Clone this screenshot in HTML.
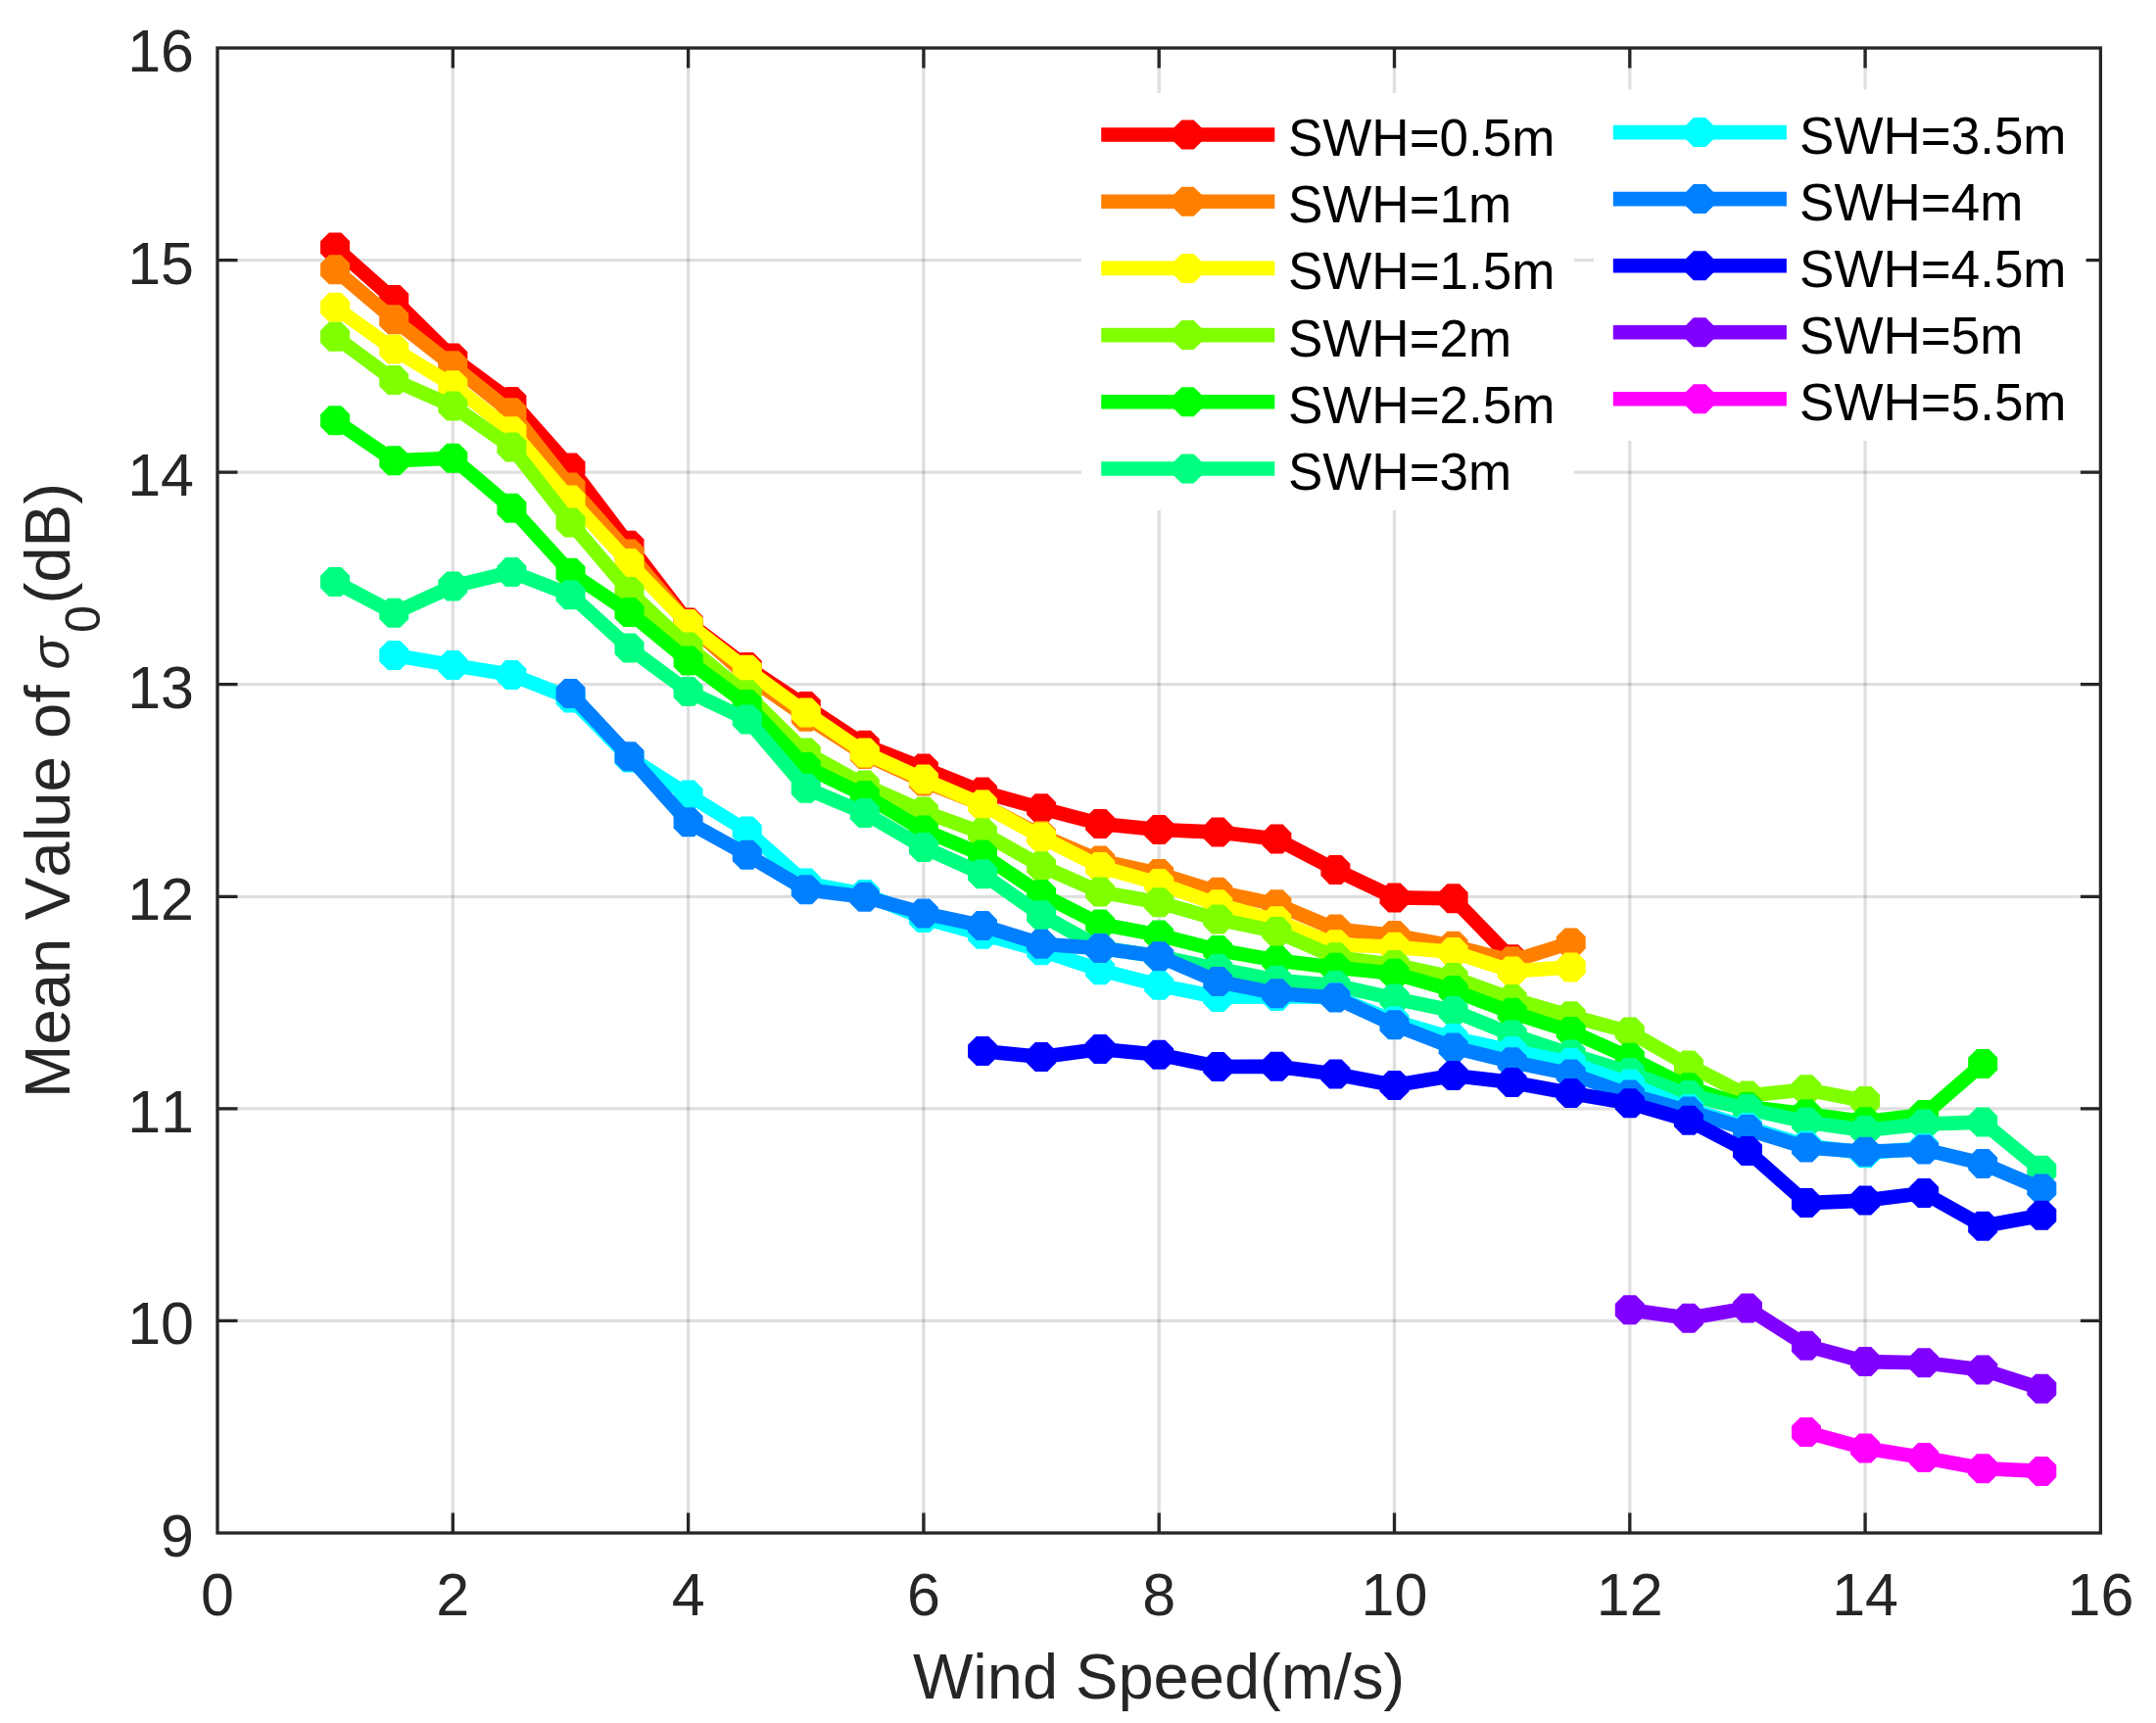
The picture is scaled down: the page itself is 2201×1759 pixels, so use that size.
<!DOCTYPE html>
<html><head><meta charset="utf-8"><title>Mean Value of sigma0 vs Wind Speed</title>
<style>html,body{margin:0;padding:0;background:#fff;}body{width:2201px;height:1759px;overflow:hidden;}svg{display:block;}.t{font-family:"Liberation Sans",Arial,Helvetica,sans-serif;font-kerning:none;}</style>
</head><body>
<svg width="2201" height="1759" viewBox="0 0 2201 1759">
<rect x="0" y="0" width="2201" height="1759" fill="#fff"/>
<g stroke="#262626" stroke-opacity="0.15" stroke-width="3.3" fill="none"><path d="M462.30 49.00V1565.00"/><path d="M702.60 49.00V1565.00"/><path d="M942.90 49.00V1565.00"/><path d="M1183.20 49.00V1565.00"/><path d="M1423.50 49.00V1565.00"/><path d="M1663.80 49.00V1565.00"/><path d="M1904.10 49.00V1565.00"/><path d="M222.00 1348.43H2144.40"/><path d="M222.00 1131.86H2144.40"/><path d="M222.00 915.29H2144.40"/><path d="M222.00 698.71H2144.40"/><path d="M222.00 482.14H2144.40"/><path d="M222.00 265.57H2144.40"/></g>
<path d="M462.30 1565.00v-20.5M462.30 49.00v20.5M702.60 1565.00v-20.5M702.60 49.00v20.5M942.90 1565.00v-20.5M942.90 49.00v20.5M1183.20 1565.00v-20.5M1183.20 49.00v20.5M1423.50 1565.00v-20.5M1423.50 49.00v20.5M1663.80 1565.00v-20.5M1663.80 49.00v20.5M1904.10 1565.00v-20.5M1904.10 49.00v20.5M222.00 1348.43h20.5M2144.40 1348.43h-20.5M222.00 1131.86h20.5M2144.40 1131.86h-20.5M222.00 915.29h20.5M2144.40 915.29h-20.5M222.00 698.71h20.5M2144.40 698.71h-20.5M222.00 482.14h20.5M2144.40 482.14h-20.5M222.00 265.57h20.5M2144.40 265.57h-20.5" stroke="#262626" stroke-width="3.3" fill="none"/>
<rect x="222.00" y="49.00" width="1922.40" height="1516.00" stroke="#262626" stroke-width="3.3" fill="none"/>
<path d="M342.1 252.5 L402.2 305.9 L462.3 365.5 L522.4 409.9 L582.5 477.6 L642.5 556.8 L702.6 635.5 L762.7 681.0 L822.8 721.0 L882.8 760.7 L942.9 784.4 L1003.0 808.5 L1063.1 825.3 L1123.1 841.0 L1183.2 847.0 L1243.3 849.6 L1303.4 856.6 L1363.4 887.9 L1423.5 916.4 L1483.6 917.3 L1543.7 979.3" stroke="#ff0000" stroke-width="14.6" fill="none" stroke-linejoin="round" stroke-linecap="butt"/>
<g fill="#ff0000"><polygon points="335.9,237.5 348.4,237.5 357.1,246.3 357.1,258.7 348.4,267.5 335.9,267.5 327.1,258.7 327.1,246.3"/><polygon points="396.0,290.9 408.4,290.9 417.2,299.7 417.2,312.1 408.4,320.9 396.0,320.9 387.2,312.1 387.2,299.7"/><polygon points="456.1,350.5 468.5,350.5 477.3,359.3 477.3,371.7 468.5,380.5 456.1,380.5 447.3,371.7 447.3,359.3"/><polygon points="516.2,394.9 528.6,394.9 537.4,403.7 537.4,416.1 528.6,424.9 516.2,424.9 507.4,416.1 507.4,403.7"/><polygon points="576.2,462.6 588.7,462.6 597.5,471.4 597.5,483.8 588.7,492.6 576.2,492.6 567.5,483.8 567.5,471.4"/><polygon points="636.3,541.8 648.7,541.8 657.5,550.6 657.5,563.0 648.7,571.8 636.3,571.8 627.5,563.0 627.5,550.6"/><polygon points="696.4,620.5 708.8,620.5 717.6,629.3 717.6,641.7 708.8,650.5 696.4,650.5 687.6,641.7 687.6,629.3"/><polygon points="756.5,666.0 768.9,666.0 777.7,674.8 777.7,687.2 768.9,696.0 756.5,696.0 747.7,687.2 747.7,674.8"/><polygon points="816.5,706.0 829.0,706.0 837.8,714.8 837.8,727.2 829.0,736.0 816.5,736.0 807.8,727.2 807.8,714.8"/><polygon points="876.6,745.7 889.0,745.7 897.8,754.5 897.8,766.9 889.0,775.7 876.6,775.7 867.8,766.9 867.8,754.5"/><polygon points="936.7,769.4 949.1,769.4 957.9,778.2 957.9,790.6 949.1,799.4 936.7,799.4 927.9,790.6 927.9,778.2"/><polygon points="996.8,793.5 1009.2,793.5 1018.0,802.3 1018.0,814.7 1009.2,823.5 996.8,823.5 988.0,814.7 988.0,802.3"/><polygon points="1056.8,810.3 1069.3,810.3 1078.1,819.1 1078.1,831.5 1069.3,840.3 1056.8,840.3 1048.1,831.5 1048.1,819.1"/><polygon points="1116.9,826.0 1129.3,826.0 1138.1,834.8 1138.1,847.2 1129.3,856.0 1116.9,856.0 1108.1,847.2 1108.1,834.8"/><polygon points="1177.0,832.0 1189.4,832.0 1198.2,840.8 1198.2,853.2 1189.4,862.0 1177.0,862.0 1168.2,853.2 1168.2,840.8"/><polygon points="1237.1,834.6 1249.5,834.6 1258.3,843.4 1258.3,855.8 1249.5,864.6 1237.1,864.6 1228.3,855.8 1228.3,843.4"/><polygon points="1297.1,841.6 1309.6,841.6 1318.4,850.4 1318.4,862.8 1309.6,871.6 1297.1,871.6 1288.4,862.8 1288.4,850.4"/><polygon points="1357.2,872.9 1369.6,872.9 1378.4,881.7 1378.4,894.1 1369.6,902.9 1357.2,902.9 1348.4,894.1 1348.4,881.7"/><polygon points="1417.3,901.4 1429.7,901.4 1438.5,910.2 1438.5,922.6 1429.7,931.4 1417.3,931.4 1408.5,922.6 1408.5,910.2"/><polygon points="1477.4,902.3 1489.8,902.3 1498.6,911.1 1498.6,923.5 1489.8,932.3 1477.4,932.3 1468.6,923.5 1468.6,911.1"/><polygon points="1537.4,964.3 1549.9,964.3 1558.7,973.1 1558.7,985.5 1549.9,994.3 1537.4,994.3 1528.7,985.5 1528.7,973.1"/></g>
<path d="M342.1 275.3 L402.2 326.3 L462.3 373.3 L522.4 421.2 L582.5 497.6 L642.5 565.5 L702.6 637.0 L762.7 690.0 L822.8 731.8 L882.8 770.0 L942.9 797.5 L1003.0 821.4 L1063.1 853.0 L1123.1 878.6 L1183.2 892.0 L1243.3 910.7 L1303.4 923.3 L1363.4 948.5 L1423.5 955.0 L1483.6 965.8 L1543.7 981.2 L1603.7 962.4" stroke="#ff8000" stroke-width="14.6" fill="none" stroke-linejoin="round" stroke-linecap="butt"/>
<g fill="#ff8000"><polygon points="335.9,260.3 348.4,260.3 357.1,269.1 357.1,281.5 348.4,290.3 335.9,290.3 327.1,281.5 327.1,269.1"/><polygon points="396.0,311.3 408.4,311.3 417.2,320.1 417.2,332.5 408.4,341.3 396.0,341.3 387.2,332.5 387.2,320.1"/><polygon points="456.1,358.3 468.5,358.3 477.3,367.1 477.3,379.5 468.5,388.3 456.1,388.3 447.3,379.5 447.3,367.1"/><polygon points="516.2,406.2 528.6,406.2 537.4,415.0 537.4,427.4 528.6,436.2 516.2,436.2 507.4,427.4 507.4,415.0"/><polygon points="576.2,482.6 588.7,482.6 597.5,491.4 597.5,503.8 588.7,512.6 576.2,512.6 567.5,503.8 567.5,491.4"/><polygon points="636.3,550.5 648.7,550.5 657.5,559.3 657.5,571.7 648.7,580.5 636.3,580.5 627.5,571.7 627.5,559.3"/><polygon points="696.4,622.0 708.8,622.0 717.6,630.8 717.6,643.2 708.8,652.0 696.4,652.0 687.6,643.2 687.6,630.8"/><polygon points="756.5,675.0 768.9,675.0 777.7,683.8 777.7,696.2 768.9,705.0 756.5,705.0 747.7,696.2 747.7,683.8"/><polygon points="816.5,716.8 829.0,716.8 837.8,725.6 837.8,738.0 829.0,746.8 816.5,746.8 807.8,738.0 807.8,725.6"/><polygon points="876.6,755.0 889.0,755.0 897.8,763.8 897.8,776.2 889.0,785.0 876.6,785.0 867.8,776.2 867.8,763.8"/><polygon points="936.7,782.5 949.1,782.5 957.9,791.3 957.9,803.7 949.1,812.5 936.7,812.5 927.9,803.7 927.9,791.3"/><polygon points="996.8,806.4 1009.2,806.4 1018.0,815.2 1018.0,827.6 1009.2,836.4 996.8,836.4 988.0,827.6 988.0,815.2"/><polygon points="1056.8,838.0 1069.3,838.0 1078.1,846.8 1078.1,859.2 1069.3,868.0 1056.8,868.0 1048.1,859.2 1048.1,846.8"/><polygon points="1116.9,863.6 1129.3,863.6 1138.1,872.4 1138.1,884.8 1129.3,893.6 1116.9,893.6 1108.1,884.8 1108.1,872.4"/><polygon points="1177.0,877.0 1189.4,877.0 1198.2,885.8 1198.2,898.2 1189.4,907.0 1177.0,907.0 1168.2,898.2 1168.2,885.8"/><polygon points="1237.1,895.7 1249.5,895.7 1258.3,904.5 1258.3,916.9 1249.5,925.7 1237.1,925.7 1228.3,916.9 1228.3,904.5"/><polygon points="1297.1,908.3 1309.6,908.3 1318.4,917.1 1318.4,929.5 1309.6,938.3 1297.1,938.3 1288.4,929.5 1288.4,917.1"/><polygon points="1357.2,933.5 1369.6,933.5 1378.4,942.3 1378.4,954.7 1369.6,963.5 1357.2,963.5 1348.4,954.7 1348.4,942.3"/><polygon points="1417.3,940.0 1429.7,940.0 1438.5,948.8 1438.5,961.2 1429.7,970.0 1417.3,970.0 1408.5,961.2 1408.5,948.8"/><polygon points="1477.4,950.8 1489.8,950.8 1498.6,959.6 1498.6,972.0 1489.8,980.8 1477.4,980.8 1468.6,972.0 1468.6,959.6"/><polygon points="1537.4,966.2 1549.9,966.2 1558.7,975.0 1558.7,987.4 1549.9,996.2 1537.4,996.2 1528.7,987.4 1528.7,975.0"/><polygon points="1597.5,947.4 1609.9,947.4 1618.7,956.2 1618.7,968.6 1609.9,977.4 1597.5,977.4 1588.7,968.6 1588.7,956.2"/></g>
<path d="M342.1 313.8 L402.2 356.6 L462.3 393.3 L522.4 440.3 L582.5 510.6 L642.5 575.0 L702.6 636.9 L762.7 683.7 L822.8 727.6 L882.8 768.5 L942.9 795.6 L1003.0 821.5 L1063.1 854.6 L1123.1 885.0 L1183.2 902.0 L1243.3 923.3 L1303.4 940.3 L1363.4 964.2 L1423.5 966.8 L1483.6 971.9 L1543.7 991.5 L1603.7 987.4" stroke="#ffff00" stroke-width="14.6" fill="none" stroke-linejoin="round" stroke-linecap="butt"/>
<g fill="#ffff00"><polygon points="335.9,298.8 348.4,298.8 357.1,307.6 357.1,320.0 348.4,328.8 335.9,328.8 327.1,320.0 327.1,307.6"/><polygon points="396.0,341.6 408.4,341.6 417.2,350.4 417.2,362.8 408.4,371.6 396.0,371.6 387.2,362.8 387.2,350.4"/><polygon points="456.1,378.3 468.5,378.3 477.3,387.1 477.3,399.5 468.5,408.3 456.1,408.3 447.3,399.5 447.3,387.1"/><polygon points="516.2,425.3 528.6,425.3 537.4,434.1 537.4,446.5 528.6,455.3 516.2,455.3 507.4,446.5 507.4,434.1"/><polygon points="576.2,495.6 588.7,495.6 597.5,504.4 597.5,516.8 588.7,525.6 576.2,525.6 567.5,516.8 567.5,504.4"/><polygon points="636.3,560.0 648.7,560.0 657.5,568.8 657.5,581.2 648.7,590.0 636.3,590.0 627.5,581.2 627.5,568.8"/><polygon points="696.4,621.9 708.8,621.9 717.6,630.7 717.6,643.1 708.8,651.9 696.4,651.9 687.6,643.1 687.6,630.7"/><polygon points="756.5,668.7 768.9,668.7 777.7,677.5 777.7,689.9 768.9,698.7 756.5,698.7 747.7,689.9 747.7,677.5"/><polygon points="816.5,712.6 829.0,712.6 837.8,721.4 837.8,733.8 829.0,742.6 816.5,742.6 807.8,733.8 807.8,721.4"/><polygon points="876.6,753.5 889.0,753.5 897.8,762.3 897.8,774.7 889.0,783.5 876.6,783.5 867.8,774.7 867.8,762.3"/><polygon points="936.7,780.6 949.1,780.6 957.9,789.4 957.9,801.8 949.1,810.6 936.7,810.6 927.9,801.8 927.9,789.4"/><polygon points="996.8,806.5 1009.2,806.5 1018.0,815.3 1018.0,827.7 1009.2,836.5 996.8,836.5 988.0,827.7 988.0,815.3"/><polygon points="1056.8,839.6 1069.3,839.6 1078.1,848.4 1078.1,860.8 1069.3,869.6 1056.8,869.6 1048.1,860.8 1048.1,848.4"/><polygon points="1116.9,870.0 1129.3,870.0 1138.1,878.8 1138.1,891.2 1129.3,900.0 1116.9,900.0 1108.1,891.2 1108.1,878.8"/><polygon points="1177.0,887.0 1189.4,887.0 1198.2,895.8 1198.2,908.2 1189.4,917.0 1177.0,917.0 1168.2,908.2 1168.2,895.8"/><polygon points="1237.1,908.3 1249.5,908.3 1258.3,917.1 1258.3,929.5 1249.5,938.3 1237.1,938.3 1228.3,929.5 1228.3,917.1"/><polygon points="1297.1,925.3 1309.6,925.3 1318.4,934.1 1318.4,946.5 1309.6,955.3 1297.1,955.3 1288.4,946.5 1288.4,934.1"/><polygon points="1357.2,949.2 1369.6,949.2 1378.4,958.0 1378.4,970.4 1369.6,979.2 1357.2,979.2 1348.4,970.4 1348.4,958.0"/><polygon points="1417.3,951.8 1429.7,951.8 1438.5,960.6 1438.5,973.0 1429.7,981.8 1417.3,981.8 1408.5,973.0 1408.5,960.6"/><polygon points="1477.4,956.9 1489.8,956.9 1498.6,965.7 1498.6,978.1 1489.8,986.9 1477.4,986.9 1468.6,978.1 1468.6,965.7"/><polygon points="1537.4,976.5 1549.9,976.5 1558.7,985.3 1558.7,997.7 1549.9,1006.5 1537.4,1006.5 1528.7,997.7 1528.7,985.3"/><polygon points="1597.5,972.4 1609.9,972.4 1618.7,981.2 1618.7,993.6 1609.9,1002.4 1597.5,1002.4 1588.7,993.6 1588.7,981.2"/></g>
<path d="M342.1 343.7 L402.2 388.1 L462.3 414.6 L522.4 456.4 L582.5 533.6 L642.5 604.1 L702.6 660.4 L762.7 709.3 L822.8 768.5 L882.8 801.6 L942.9 828.5 L1003.0 850.3 L1063.1 884.2 L1123.1 910.6 L1183.2 921.2 L1243.3 938.4 L1303.4 951.1 L1363.4 977.3 L1423.5 985.0 L1483.6 998.0 L1543.7 1020.0 L1603.7 1037.2 L1663.8 1053.5 L1723.9 1087.6 L1784.0 1118.4 L1844.0 1112.3 L1904.1 1124.0" stroke="#80ff00" stroke-width="14.6" fill="none" stroke-linejoin="round" stroke-linecap="butt"/>
<g fill="#80ff00"><polygon points="335.9,328.7 348.4,328.7 357.1,337.5 357.1,349.9 348.4,358.7 335.9,358.7 327.1,349.9 327.1,337.5"/><polygon points="396.0,373.1 408.4,373.1 417.2,381.9 417.2,394.3 408.4,403.1 396.0,403.1 387.2,394.3 387.2,381.9"/><polygon points="456.1,399.6 468.5,399.6 477.3,408.4 477.3,420.8 468.5,429.6 456.1,429.6 447.3,420.8 447.3,408.4"/><polygon points="516.2,441.4 528.6,441.4 537.4,450.2 537.4,462.6 528.6,471.4 516.2,471.4 507.4,462.6 507.4,450.2"/><polygon points="576.2,518.6 588.7,518.6 597.5,527.4 597.5,539.8 588.7,548.6 576.2,548.6 567.5,539.8 567.5,527.4"/><polygon points="636.3,589.1 648.7,589.1 657.5,597.9 657.5,610.3 648.7,619.1 636.3,619.1 627.5,610.3 627.5,597.9"/><polygon points="696.4,645.4 708.8,645.4 717.6,654.2 717.6,666.6 708.8,675.4 696.4,675.4 687.6,666.6 687.6,654.2"/><polygon points="756.5,694.3 768.9,694.3 777.7,703.1 777.7,715.5 768.9,724.3 756.5,724.3 747.7,715.5 747.7,703.1"/><polygon points="816.5,753.5 829.0,753.5 837.8,762.3 837.8,774.7 829.0,783.5 816.5,783.5 807.8,774.7 807.8,762.3"/><polygon points="876.6,786.6 889.0,786.6 897.8,795.4 897.8,807.8 889.0,816.6 876.6,816.6 867.8,807.8 867.8,795.4"/><polygon points="936.7,813.5 949.1,813.5 957.9,822.3 957.9,834.7 949.1,843.5 936.7,843.5 927.9,834.7 927.9,822.3"/><polygon points="996.8,835.3 1009.2,835.3 1018.0,844.1 1018.0,856.5 1009.2,865.3 996.8,865.3 988.0,856.5 988.0,844.1"/><polygon points="1056.8,869.2 1069.3,869.2 1078.1,878.0 1078.1,890.4 1069.3,899.2 1056.8,899.2 1048.1,890.4 1048.1,878.0"/><polygon points="1116.9,895.6 1129.3,895.6 1138.1,904.4 1138.1,916.8 1129.3,925.6 1116.9,925.6 1108.1,916.8 1108.1,904.4"/><polygon points="1177.0,906.2 1189.4,906.2 1198.2,915.0 1198.2,927.4 1189.4,936.2 1177.0,936.2 1168.2,927.4 1168.2,915.0"/><polygon points="1237.1,923.4 1249.5,923.4 1258.3,932.2 1258.3,944.6 1249.5,953.4 1237.1,953.4 1228.3,944.6 1228.3,932.2"/><polygon points="1297.1,936.1 1309.6,936.1 1318.4,944.9 1318.4,957.3 1309.6,966.1 1297.1,966.1 1288.4,957.3 1288.4,944.9"/><polygon points="1357.2,962.3 1369.6,962.3 1378.4,971.1 1378.4,983.5 1369.6,992.3 1357.2,992.3 1348.4,983.5 1348.4,971.1"/><polygon points="1417.3,970.0 1429.7,970.0 1438.5,978.8 1438.5,991.2 1429.7,1000.0 1417.3,1000.0 1408.5,991.2 1408.5,978.8"/><polygon points="1477.4,983.0 1489.8,983.0 1498.6,991.8 1498.6,1004.2 1489.8,1013.0 1477.4,1013.0 1468.6,1004.2 1468.6,991.8"/><polygon points="1537.4,1005.0 1549.9,1005.0 1558.7,1013.8 1558.7,1026.2 1549.9,1035.0 1537.4,1035.0 1528.7,1026.2 1528.7,1013.8"/><polygon points="1597.5,1022.2 1609.9,1022.2 1618.7,1031.0 1618.7,1043.4 1609.9,1052.2 1597.5,1052.2 1588.7,1043.4 1588.7,1031.0"/><polygon points="1657.6,1038.5 1670.0,1038.5 1678.8,1047.3 1678.8,1059.7 1670.0,1068.5 1657.6,1068.5 1648.8,1059.7 1648.8,1047.3"/><polygon points="1717.7,1072.6 1730.1,1072.6 1738.9,1081.4 1738.9,1093.8 1730.1,1102.6 1717.7,1102.6 1708.9,1093.8 1708.9,1081.4"/><polygon points="1777.7,1103.4 1790.2,1103.4 1799.0,1112.2 1799.0,1124.6 1790.2,1133.4 1777.7,1133.4 1769.0,1124.6 1769.0,1112.2"/><polygon points="1837.8,1097.3 1850.2,1097.3 1859.0,1106.1 1859.0,1118.5 1850.2,1127.3 1837.8,1127.3 1829.0,1118.5 1829.0,1106.1"/><polygon points="1897.9,1109.0 1910.3,1109.0 1919.1,1117.8 1919.1,1130.2 1910.3,1139.0 1897.9,1139.0 1889.1,1130.2 1889.1,1117.8"/></g>
<path d="M342.1 429.2 L402.2 470.3 L462.3 467.7 L522.4 518.7 L582.5 584.7 L642.5 625.0 L702.6 674.6 L762.7 718.9 L822.8 783.0 L882.8 812.0 L942.9 847.5 L1003.0 872.5 L1063.1 912.9 L1123.1 943.4 L1183.2 954.6 L1243.3 970.0 L1303.4 980.4 L1363.4 987.7 L1423.5 993.7 L1483.6 1011.1 L1543.7 1033.8 L1603.7 1052.9 L1663.8 1079.8 L1723.9 1110.2 L1784.0 1130.0 L1844.0 1137.2 L1904.1 1145.3 L1964.2 1137.9 L2024.2 1086.0" stroke="#00ff00" stroke-width="14.6" fill="none" stroke-linejoin="round" stroke-linecap="butt"/>
<g fill="#00ff00"><polygon points="335.9,414.2 348.4,414.2 357.1,423.0 357.1,435.4 348.4,444.2 335.9,444.2 327.1,435.4 327.1,423.0"/><polygon points="396.0,455.3 408.4,455.3 417.2,464.1 417.2,476.5 408.4,485.3 396.0,485.3 387.2,476.5 387.2,464.1"/><polygon points="456.1,452.7 468.5,452.7 477.3,461.5 477.3,473.9 468.5,482.7 456.1,482.7 447.3,473.9 447.3,461.5"/><polygon points="516.2,503.7 528.6,503.7 537.4,512.5 537.4,524.9 528.6,533.7 516.2,533.7 507.4,524.9 507.4,512.5"/><polygon points="576.2,569.7 588.7,569.7 597.5,578.5 597.5,590.9 588.7,599.7 576.2,599.7 567.5,590.9 567.5,578.5"/><polygon points="636.3,610.0 648.7,610.0 657.5,618.8 657.5,631.2 648.7,640.0 636.3,640.0 627.5,631.2 627.5,618.8"/><polygon points="696.4,659.6 708.8,659.6 717.6,668.4 717.6,680.8 708.8,689.6 696.4,689.6 687.6,680.8 687.6,668.4"/><polygon points="756.5,703.9 768.9,703.9 777.7,712.7 777.7,725.1 768.9,733.9 756.5,733.9 747.7,725.1 747.7,712.7"/><polygon points="816.5,768.0 829.0,768.0 837.8,776.8 837.8,789.2 829.0,798.0 816.5,798.0 807.8,789.2 807.8,776.8"/><polygon points="876.6,797.0 889.0,797.0 897.8,805.8 897.8,818.2 889.0,827.0 876.6,827.0 867.8,818.2 867.8,805.8"/><polygon points="936.7,832.5 949.1,832.5 957.9,841.3 957.9,853.7 949.1,862.5 936.7,862.5 927.9,853.7 927.9,841.3"/><polygon points="996.8,857.5 1009.2,857.5 1018.0,866.3 1018.0,878.7 1009.2,887.5 996.8,887.5 988.0,878.7 988.0,866.3"/><polygon points="1056.8,897.9 1069.3,897.9 1078.1,906.7 1078.1,919.1 1069.3,927.9 1056.8,927.9 1048.1,919.1 1048.1,906.7"/><polygon points="1116.9,928.4 1129.3,928.4 1138.1,937.2 1138.1,949.6 1129.3,958.4 1116.9,958.4 1108.1,949.6 1108.1,937.2"/><polygon points="1177.0,939.6 1189.4,939.6 1198.2,948.4 1198.2,960.8 1189.4,969.6 1177.0,969.6 1168.2,960.8 1168.2,948.4"/><polygon points="1237.1,955.0 1249.5,955.0 1258.3,963.8 1258.3,976.2 1249.5,985.0 1237.1,985.0 1228.3,976.2 1228.3,963.8"/><polygon points="1297.1,965.4 1309.6,965.4 1318.4,974.2 1318.4,986.6 1309.6,995.4 1297.1,995.4 1288.4,986.6 1288.4,974.2"/><polygon points="1357.2,972.7 1369.6,972.7 1378.4,981.5 1378.4,993.9 1369.6,1002.7 1357.2,1002.7 1348.4,993.9 1348.4,981.5"/><polygon points="1417.3,978.7 1429.7,978.7 1438.5,987.5 1438.5,999.9 1429.7,1008.7 1417.3,1008.7 1408.5,999.9 1408.5,987.5"/><polygon points="1477.4,996.1 1489.8,996.1 1498.6,1004.9 1498.6,1017.3 1489.8,1026.1 1477.4,1026.1 1468.6,1017.3 1468.6,1004.9"/><polygon points="1537.4,1018.8 1549.9,1018.8 1558.7,1027.6 1558.7,1040.0 1549.9,1048.8 1537.4,1048.8 1528.7,1040.0 1528.7,1027.6"/><polygon points="1597.5,1037.9 1609.9,1037.9 1618.7,1046.7 1618.7,1059.1 1609.9,1067.9 1597.5,1067.9 1588.7,1059.1 1588.7,1046.7"/><polygon points="1657.6,1064.8 1670.0,1064.8 1678.8,1073.6 1678.8,1086.0 1670.0,1094.8 1657.6,1094.8 1648.8,1086.0 1648.8,1073.6"/><polygon points="1717.7,1095.2 1730.1,1095.2 1738.9,1104.0 1738.9,1116.4 1730.1,1125.2 1717.7,1125.2 1708.9,1116.4 1708.9,1104.0"/><polygon points="1777.7,1115.0 1790.2,1115.0 1799.0,1123.8 1799.0,1136.2 1790.2,1145.0 1777.7,1145.0 1769.0,1136.2 1769.0,1123.8"/><polygon points="1837.8,1122.2 1850.2,1122.2 1859.0,1131.0 1859.0,1143.4 1850.2,1152.2 1837.8,1152.2 1829.0,1143.4 1829.0,1131.0"/><polygon points="1897.9,1130.3 1910.3,1130.3 1919.1,1139.1 1919.1,1151.5 1910.3,1160.3 1897.9,1160.3 1889.1,1151.5 1889.1,1139.1"/><polygon points="1958.0,1122.9 1970.4,1122.9 1979.2,1131.7 1979.2,1144.1 1970.4,1152.9 1958.0,1152.9 1949.2,1144.1 1949.2,1131.7"/><polygon points="2018.0,1071.0 2030.5,1071.0 2039.2,1079.8 2039.2,1092.2 2030.5,1101.0 2018.0,1101.0 2009.2,1092.2 2009.2,1079.8"/></g>
<path d="M342.1 594.0 L402.2 625.8 L462.3 598.5 L522.4 584.0 L582.5 607.2 L642.5 661.6 L702.6 706.0 L762.7 734.4 L822.8 804.8 L882.8 830.0 L942.9 865.0 L1003.0 892.2 L1063.1 934.2 L1123.1 967.5 L1183.2 976.5 L1243.3 989.1 L1303.4 1000.8 L1363.4 1006.0 L1423.5 1019.4 L1483.6 1032.0 L1543.7 1056.4 L1603.7 1076.4 L1663.8 1095.0 L1723.9 1118.0 L1784.0 1132.0 L1844.0 1145.5 L1904.1 1154.0 L1964.2 1147.5 L2024.2 1145.6 L2084.3 1194.8" stroke="#00ff80" stroke-width="14.6" fill="none" stroke-linejoin="round" stroke-linecap="butt"/>
<g fill="#00ff80"><polygon points="335.9,579.0 348.4,579.0 357.1,587.8 357.1,600.2 348.4,609.0 335.9,609.0 327.1,600.2 327.1,587.8"/><polygon points="396.0,610.8 408.4,610.8 417.2,619.6 417.2,632.0 408.4,640.8 396.0,640.8 387.2,632.0 387.2,619.6"/><polygon points="456.1,583.5 468.5,583.5 477.3,592.3 477.3,604.7 468.5,613.5 456.1,613.5 447.3,604.7 447.3,592.3"/><polygon points="516.2,569.0 528.6,569.0 537.4,577.8 537.4,590.2 528.6,599.0 516.2,599.0 507.4,590.2 507.4,577.8"/><polygon points="576.2,592.2 588.7,592.2 597.5,601.0 597.5,613.4 588.7,622.2 576.2,622.2 567.5,613.4 567.5,601.0"/><polygon points="636.3,646.6 648.7,646.6 657.5,655.4 657.5,667.8 648.7,676.6 636.3,676.6 627.5,667.8 627.5,655.4"/><polygon points="696.4,691.0 708.8,691.0 717.6,699.8 717.6,712.2 708.8,721.0 696.4,721.0 687.6,712.2 687.6,699.8"/><polygon points="756.5,719.4 768.9,719.4 777.7,728.2 777.7,740.6 768.9,749.4 756.5,749.4 747.7,740.6 747.7,728.2"/><polygon points="816.5,789.8 829.0,789.8 837.8,798.6 837.8,811.0 829.0,819.8 816.5,819.8 807.8,811.0 807.8,798.6"/><polygon points="876.6,815.0 889.0,815.0 897.8,823.8 897.8,836.2 889.0,845.0 876.6,845.0 867.8,836.2 867.8,823.8"/><polygon points="936.7,850.0 949.1,850.0 957.9,858.8 957.9,871.2 949.1,880.0 936.7,880.0 927.9,871.2 927.9,858.8"/><polygon points="996.8,877.2 1009.2,877.2 1018.0,886.0 1018.0,898.4 1009.2,907.2 996.8,907.2 988.0,898.4 988.0,886.0"/><polygon points="1056.8,919.2 1069.3,919.2 1078.1,928.0 1078.1,940.4 1069.3,949.2 1056.8,949.2 1048.1,940.4 1048.1,928.0"/><polygon points="1116.9,952.5 1129.3,952.5 1138.1,961.3 1138.1,973.7 1129.3,982.5 1116.9,982.5 1108.1,973.7 1108.1,961.3"/><polygon points="1177.0,961.5 1189.4,961.5 1198.2,970.3 1198.2,982.7 1189.4,991.5 1177.0,991.5 1168.2,982.7 1168.2,970.3"/><polygon points="1237.1,974.1 1249.5,974.1 1258.3,982.9 1258.3,995.3 1249.5,1004.1 1237.1,1004.1 1228.3,995.3 1228.3,982.9"/><polygon points="1297.1,985.8 1309.6,985.8 1318.4,994.6 1318.4,1007.0 1309.6,1015.8 1297.1,1015.8 1288.4,1007.0 1288.4,994.6"/><polygon points="1357.2,991.0 1369.6,991.0 1378.4,999.8 1378.4,1012.2 1369.6,1021.0 1357.2,1021.0 1348.4,1012.2 1348.4,999.8"/><polygon points="1417.3,1004.4 1429.7,1004.4 1438.5,1013.2 1438.5,1025.6 1429.7,1034.4 1417.3,1034.4 1408.5,1025.6 1408.5,1013.2"/><polygon points="1477.4,1017.0 1489.8,1017.0 1498.6,1025.8 1498.6,1038.2 1489.8,1047.0 1477.4,1047.0 1468.6,1038.2 1468.6,1025.8"/><polygon points="1537.4,1041.4 1549.9,1041.4 1558.7,1050.2 1558.7,1062.6 1549.9,1071.4 1537.4,1071.4 1528.7,1062.6 1528.7,1050.2"/><polygon points="1597.5,1061.4 1609.9,1061.4 1618.7,1070.2 1618.7,1082.6 1609.9,1091.4 1597.5,1091.4 1588.7,1082.6 1588.7,1070.2"/><polygon points="1657.6,1080.0 1670.0,1080.0 1678.8,1088.8 1678.8,1101.2 1670.0,1110.0 1657.6,1110.0 1648.8,1101.2 1648.8,1088.8"/><polygon points="1717.7,1103.0 1730.1,1103.0 1738.9,1111.8 1738.9,1124.2 1730.1,1133.0 1717.7,1133.0 1708.9,1124.2 1708.9,1111.8"/><polygon points="1777.7,1117.0 1790.2,1117.0 1799.0,1125.8 1799.0,1138.2 1790.2,1147.0 1777.7,1147.0 1769.0,1138.2 1769.0,1125.8"/><polygon points="1837.8,1130.5 1850.2,1130.5 1859.0,1139.3 1859.0,1151.7 1850.2,1160.5 1837.8,1160.5 1829.0,1151.7 1829.0,1139.3"/><polygon points="1897.9,1139.0 1910.3,1139.0 1919.1,1147.8 1919.1,1160.2 1910.3,1169.0 1897.9,1169.0 1889.1,1160.2 1889.1,1147.8"/><polygon points="1958.0,1132.5 1970.4,1132.5 1979.2,1141.3 1979.2,1153.7 1970.4,1162.5 1958.0,1162.5 1949.2,1153.7 1949.2,1141.3"/><polygon points="2018.0,1130.6 2030.5,1130.6 2039.2,1139.4 2039.2,1151.8 2030.5,1160.6 2018.0,1160.6 2009.2,1151.8 2009.2,1139.4"/><polygon points="2078.1,1179.8 2090.5,1179.8 2099.3,1188.6 2099.3,1201.0 2090.5,1209.8 2078.1,1209.8 2069.3,1201.0 2069.3,1188.6"/></g>
<path d="M402.2 669.0 L462.3 679.1 L522.4 689.0 L582.5 712.6 L642.5 773.5 L702.6 811.4 L762.7 848.4 L822.8 901.6 L882.8 913.0 L942.9 937.1 L1003.0 953.7 L1063.1 970.2 L1123.1 990.2 L1183.2 1005.8 L1243.3 1018.0 L1303.4 1017.1 L1363.4 1018.0 L1423.5 1042.5 L1483.6 1059.9 L1543.7 1072.9 L1603.7 1085.0 L1663.8 1106.5 L1723.9 1132.0 L1784.0 1151.0 L1844.0 1169.5 L1904.1 1177.3 L1964.2 1172.0" stroke="#00ffff" stroke-width="14.6" fill="none" stroke-linejoin="round" stroke-linecap="butt"/>
<g fill="#00ffff"><polygon points="396.0,654.0 408.4,654.0 417.2,662.8 417.2,675.2 408.4,684.0 396.0,684.0 387.2,675.2 387.2,662.8"/><polygon points="456.1,664.1 468.5,664.1 477.3,672.9 477.3,685.3 468.5,694.1 456.1,694.1 447.3,685.3 447.3,672.9"/><polygon points="516.2,674.0 528.6,674.0 537.4,682.8 537.4,695.2 528.6,704.0 516.2,704.0 507.4,695.2 507.4,682.8"/><polygon points="576.2,697.6 588.7,697.6 597.5,706.4 597.5,718.8 588.7,727.6 576.2,727.6 567.5,718.8 567.5,706.4"/><polygon points="636.3,758.5 648.7,758.5 657.5,767.3 657.5,779.7 648.7,788.5 636.3,788.5 627.5,779.7 627.5,767.3"/><polygon points="696.4,796.4 708.8,796.4 717.6,805.2 717.6,817.6 708.8,826.4 696.4,826.4 687.6,817.6 687.6,805.2"/><polygon points="756.5,833.4 768.9,833.4 777.7,842.2 777.7,854.6 768.9,863.4 756.5,863.4 747.7,854.6 747.7,842.2"/><polygon points="816.5,886.6 829.0,886.6 837.8,895.4 837.8,907.8 829.0,916.6 816.5,916.6 807.8,907.8 807.8,895.4"/><polygon points="876.6,898.0 889.0,898.0 897.8,906.8 897.8,919.2 889.0,928.0 876.6,928.0 867.8,919.2 867.8,906.8"/><polygon points="936.7,922.1 949.1,922.1 957.9,930.9 957.9,943.3 949.1,952.1 936.7,952.1 927.9,943.3 927.9,930.9"/><polygon points="996.8,938.7 1009.2,938.7 1018.0,947.5 1018.0,959.9 1009.2,968.7 996.8,968.7 988.0,959.9 988.0,947.5"/><polygon points="1056.8,955.2 1069.3,955.2 1078.1,964.0 1078.1,976.4 1069.3,985.2 1056.8,985.2 1048.1,976.4 1048.1,964.0"/><polygon points="1116.9,975.2 1129.3,975.2 1138.1,984.0 1138.1,996.4 1129.3,1005.2 1116.9,1005.2 1108.1,996.4 1108.1,984.0"/><polygon points="1177.0,990.8 1189.4,990.8 1198.2,999.6 1198.2,1012.0 1189.4,1020.8 1177.0,1020.8 1168.2,1012.0 1168.2,999.6"/><polygon points="1237.1,1003.0 1249.5,1003.0 1258.3,1011.8 1258.3,1024.2 1249.5,1033.0 1237.1,1033.0 1228.3,1024.2 1228.3,1011.8"/><polygon points="1297.1,1002.1 1309.6,1002.1 1318.4,1010.9 1318.4,1023.3 1309.6,1032.1 1297.1,1032.1 1288.4,1023.3 1288.4,1010.9"/><polygon points="1357.2,1003.0 1369.6,1003.0 1378.4,1011.8 1378.4,1024.2 1369.6,1033.0 1357.2,1033.0 1348.4,1024.2 1348.4,1011.8"/><polygon points="1417.3,1027.5 1429.7,1027.5 1438.5,1036.3 1438.5,1048.7 1429.7,1057.5 1417.3,1057.5 1408.5,1048.7 1408.5,1036.3"/><polygon points="1477.4,1044.9 1489.8,1044.9 1498.6,1053.7 1498.6,1066.1 1489.8,1074.9 1477.4,1074.9 1468.6,1066.1 1468.6,1053.7"/><polygon points="1537.4,1057.9 1549.9,1057.9 1558.7,1066.7 1558.7,1079.1 1549.9,1087.9 1537.4,1087.9 1528.7,1079.1 1528.7,1066.7"/><polygon points="1597.5,1070.0 1609.9,1070.0 1618.7,1078.8 1618.7,1091.2 1609.9,1100.0 1597.5,1100.0 1588.7,1091.2 1588.7,1078.8"/><polygon points="1657.6,1091.5 1670.0,1091.5 1678.8,1100.3 1678.8,1112.7 1670.0,1121.5 1657.6,1121.5 1648.8,1112.7 1648.8,1100.3"/><polygon points="1717.7,1117.0 1730.1,1117.0 1738.9,1125.8 1738.9,1138.2 1730.1,1147.0 1717.7,1147.0 1708.9,1138.2 1708.9,1125.8"/><polygon points="1777.7,1136.0 1790.2,1136.0 1799.0,1144.8 1799.0,1157.2 1790.2,1166.0 1777.7,1166.0 1769.0,1157.2 1769.0,1144.8"/><polygon points="1837.8,1154.5 1850.2,1154.5 1859.0,1163.3 1859.0,1175.7 1850.2,1184.5 1837.8,1184.5 1829.0,1175.7 1829.0,1163.3"/><polygon points="1897.9,1162.3 1910.3,1162.3 1919.1,1171.1 1919.1,1183.5 1910.3,1192.3 1897.9,1192.3 1889.1,1183.5 1889.1,1171.1"/><polygon points="1958.0,1157.0 1970.4,1157.0 1979.2,1165.8 1979.2,1178.2 1970.4,1187.0 1958.0,1187.0 1949.2,1178.2 1949.2,1165.8"/></g>
<path d="M582.5 708.0 L642.5 772.2 L702.6 839.3 L762.7 872.7 L822.8 908.3 L882.8 915.8 L942.9 932.4 L1003.0 945.1 L1063.1 963.8 L1123.1 968.1 L1183.2 976.2 L1243.3 1002.0 L1303.4 1014.2 L1363.4 1018.5 L1423.5 1046.3 L1483.6 1069.4 L1543.7 1084.2 L1603.7 1096.4 L1663.8 1117.6 L1723.9 1134.6 L1784.0 1152.9 L1844.0 1171.5 L1904.1 1175.8 L1964.2 1173.5 L2024.2 1187.9 L2084.3 1213.5" stroke="#0080ff" stroke-width="14.6" fill="none" stroke-linejoin="round" stroke-linecap="butt"/>
<g fill="#0080ff"><polygon points="576.2,693.0 588.7,693.0 597.5,701.8 597.5,714.2 588.7,723.0 576.2,723.0 567.5,714.2 567.5,701.8"/><polygon points="636.3,757.2 648.7,757.2 657.5,766.0 657.5,778.4 648.7,787.2 636.3,787.2 627.5,778.4 627.5,766.0"/><polygon points="696.4,824.3 708.8,824.3 717.6,833.1 717.6,845.5 708.8,854.3 696.4,854.3 687.6,845.5 687.6,833.1"/><polygon points="756.5,857.7 768.9,857.7 777.7,866.5 777.7,878.9 768.9,887.7 756.5,887.7 747.7,878.9 747.7,866.5"/><polygon points="816.5,893.3 829.0,893.3 837.8,902.1 837.8,914.5 829.0,923.3 816.5,923.3 807.8,914.5 807.8,902.1"/><polygon points="876.6,900.8 889.0,900.8 897.8,909.6 897.8,922.0 889.0,930.8 876.6,930.8 867.8,922.0 867.8,909.6"/><polygon points="936.7,917.4 949.1,917.4 957.9,926.2 957.9,938.6 949.1,947.4 936.7,947.4 927.9,938.6 927.9,926.2"/><polygon points="996.8,930.1 1009.2,930.1 1018.0,938.9 1018.0,951.3 1009.2,960.1 996.8,960.1 988.0,951.3 988.0,938.9"/><polygon points="1056.8,948.8 1069.3,948.8 1078.1,957.6 1078.1,970.0 1069.3,978.8 1056.8,978.8 1048.1,970.0 1048.1,957.6"/><polygon points="1116.9,953.1 1129.3,953.1 1138.1,961.9 1138.1,974.3 1129.3,983.1 1116.9,983.1 1108.1,974.3 1108.1,961.9"/><polygon points="1177.0,961.2 1189.4,961.2 1198.2,970.0 1198.2,982.4 1189.4,991.2 1177.0,991.2 1168.2,982.4 1168.2,970.0"/><polygon points="1237.1,987.0 1249.5,987.0 1258.3,995.8 1258.3,1008.2 1249.5,1017.0 1237.1,1017.0 1228.3,1008.2 1228.3,995.8"/><polygon points="1297.1,999.2 1309.6,999.2 1318.4,1008.0 1318.4,1020.4 1309.6,1029.2 1297.1,1029.2 1288.4,1020.4 1288.4,1008.0"/><polygon points="1357.2,1003.5 1369.6,1003.5 1378.4,1012.3 1378.4,1024.7 1369.6,1033.5 1357.2,1033.5 1348.4,1024.7 1348.4,1012.3"/><polygon points="1417.3,1031.3 1429.7,1031.3 1438.5,1040.1 1438.5,1052.5 1429.7,1061.3 1417.3,1061.3 1408.5,1052.5 1408.5,1040.1"/><polygon points="1477.4,1054.4 1489.8,1054.4 1498.6,1063.2 1498.6,1075.6 1489.8,1084.4 1477.4,1084.4 1468.6,1075.6 1468.6,1063.2"/><polygon points="1537.4,1069.2 1549.9,1069.2 1558.7,1078.0 1558.7,1090.4 1549.9,1099.2 1537.4,1099.2 1528.7,1090.4 1528.7,1078.0"/><polygon points="1597.5,1081.4 1609.9,1081.4 1618.7,1090.2 1618.7,1102.6 1609.9,1111.4 1597.5,1111.4 1588.7,1102.6 1588.7,1090.2"/><polygon points="1657.6,1102.6 1670.0,1102.6 1678.8,1111.4 1678.8,1123.8 1670.0,1132.6 1657.6,1132.6 1648.8,1123.8 1648.8,1111.4"/><polygon points="1717.7,1119.6 1730.1,1119.6 1738.9,1128.4 1738.9,1140.8 1730.1,1149.6 1717.7,1149.6 1708.9,1140.8 1708.9,1128.4"/><polygon points="1777.7,1137.9 1790.2,1137.9 1799.0,1146.7 1799.0,1159.1 1790.2,1167.9 1777.7,1167.9 1769.0,1159.1 1769.0,1146.7"/><polygon points="1837.8,1156.5 1850.2,1156.5 1859.0,1165.3 1859.0,1177.7 1850.2,1186.5 1837.8,1186.5 1829.0,1177.7 1829.0,1165.3"/><polygon points="1897.9,1160.8 1910.3,1160.8 1919.1,1169.6 1919.1,1182.0 1910.3,1190.8 1897.9,1190.8 1889.1,1182.0 1889.1,1169.6"/><polygon points="1958.0,1158.5 1970.4,1158.5 1979.2,1167.3 1979.2,1179.7 1970.4,1188.5 1958.0,1188.5 1949.2,1179.7 1949.2,1167.3"/><polygon points="2018.0,1172.9 2030.5,1172.9 2039.2,1181.7 2039.2,1194.1 2030.5,1202.9 2018.0,1202.9 2009.2,1194.1 2009.2,1181.7"/><polygon points="2078.1,1198.5 2090.5,1198.5 2099.3,1207.3 2099.3,1219.7 2090.5,1228.5 2078.1,1228.5 2069.3,1219.7 2069.3,1207.3"/></g>
<path d="M1003.0 1073.0 L1063.1 1079.0 L1123.1 1070.9 L1183.2 1076.7 L1243.3 1089.0 L1303.4 1088.7 L1363.4 1096.5 L1423.5 1108.0 L1483.6 1098.0 L1543.7 1105.0 L1603.7 1116.0 L1663.8 1126.3 L1723.9 1143.7 L1784.0 1175.0 L1844.0 1228.1 L1904.1 1225.6 L1964.2 1218.0 L2024.2 1251.7 L2084.3 1240.7" stroke="#0000ff" stroke-width="14.6" fill="none" stroke-linejoin="round" stroke-linecap="butt"/>
<g fill="#0000ff"><polygon points="996.8,1058.0 1009.2,1058.0 1018.0,1066.8 1018.0,1079.2 1009.2,1088.0 996.8,1088.0 988.0,1079.2 988.0,1066.8"/><polygon points="1056.8,1064.0 1069.3,1064.0 1078.1,1072.8 1078.1,1085.2 1069.3,1094.0 1056.8,1094.0 1048.1,1085.2 1048.1,1072.8"/><polygon points="1116.9,1055.9 1129.3,1055.9 1138.1,1064.7 1138.1,1077.1 1129.3,1085.9 1116.9,1085.9 1108.1,1077.1 1108.1,1064.7"/><polygon points="1177.0,1061.7 1189.4,1061.7 1198.2,1070.5 1198.2,1082.9 1189.4,1091.7 1177.0,1091.7 1168.2,1082.9 1168.2,1070.5"/><polygon points="1237.1,1074.0 1249.5,1074.0 1258.3,1082.8 1258.3,1095.2 1249.5,1104.0 1237.1,1104.0 1228.3,1095.2 1228.3,1082.8"/><polygon points="1297.1,1073.7 1309.6,1073.7 1318.4,1082.5 1318.4,1094.9 1309.6,1103.7 1297.1,1103.7 1288.4,1094.9 1288.4,1082.5"/><polygon points="1357.2,1081.5 1369.6,1081.5 1378.4,1090.3 1378.4,1102.7 1369.6,1111.5 1357.2,1111.5 1348.4,1102.7 1348.4,1090.3"/><polygon points="1417.3,1093.0 1429.7,1093.0 1438.5,1101.8 1438.5,1114.2 1429.7,1123.0 1417.3,1123.0 1408.5,1114.2 1408.5,1101.8"/><polygon points="1477.4,1083.0 1489.8,1083.0 1498.6,1091.8 1498.6,1104.2 1489.8,1113.0 1477.4,1113.0 1468.6,1104.2 1468.6,1091.8"/><polygon points="1537.4,1090.0 1549.9,1090.0 1558.7,1098.8 1558.7,1111.2 1549.9,1120.0 1537.4,1120.0 1528.7,1111.2 1528.7,1098.8"/><polygon points="1597.5,1101.0 1609.9,1101.0 1618.7,1109.8 1618.7,1122.2 1609.9,1131.0 1597.5,1131.0 1588.7,1122.2 1588.7,1109.8"/><polygon points="1657.6,1111.3 1670.0,1111.3 1678.8,1120.1 1678.8,1132.5 1670.0,1141.3 1657.6,1141.3 1648.8,1132.5 1648.8,1120.1"/><polygon points="1717.7,1128.7 1730.1,1128.7 1738.9,1137.5 1738.9,1149.9 1730.1,1158.7 1717.7,1158.7 1708.9,1149.9 1708.9,1137.5"/><polygon points="1777.7,1160.0 1790.2,1160.0 1799.0,1168.8 1799.0,1181.2 1790.2,1190.0 1777.7,1190.0 1769.0,1181.2 1769.0,1168.8"/><polygon points="1837.8,1213.1 1850.2,1213.1 1859.0,1221.9 1859.0,1234.3 1850.2,1243.1 1837.8,1243.1 1829.0,1234.3 1829.0,1221.9"/><polygon points="1897.9,1210.6 1910.3,1210.6 1919.1,1219.4 1919.1,1231.8 1910.3,1240.6 1897.9,1240.6 1889.1,1231.8 1889.1,1219.4"/><polygon points="1958.0,1203.0 1970.4,1203.0 1979.2,1211.8 1979.2,1224.2 1970.4,1233.0 1958.0,1233.0 1949.2,1224.2 1949.2,1211.8"/><polygon points="2018.0,1236.7 2030.5,1236.7 2039.2,1245.5 2039.2,1257.9 2030.5,1266.7 2018.0,1266.7 2009.2,1257.9 2009.2,1245.5"/><polygon points="2078.1,1225.7 2090.5,1225.7 2099.3,1234.5 2099.3,1246.9 2090.5,1255.7 2078.1,1255.7 2069.3,1246.9 2069.3,1234.5"/></g>
<path d="M1663.8 1337.2 L1723.9 1345.8 L1784.0 1335.4 L1844.0 1373.7 L1904.1 1390.1 L1964.2 1391.3 L2024.2 1398.4 L2084.3 1417.7" stroke="#8000ff" stroke-width="14.6" fill="none" stroke-linejoin="round" stroke-linecap="butt"/>
<g fill="#8000ff"><polygon points="1657.6,1322.2 1670.0,1322.2 1678.8,1331.0 1678.8,1343.4 1670.0,1352.2 1657.6,1352.2 1648.8,1343.4 1648.8,1331.0"/><polygon points="1717.7,1330.8 1730.1,1330.8 1738.9,1339.6 1738.9,1352.0 1730.1,1360.8 1717.7,1360.8 1708.9,1352.0 1708.9,1339.6"/><polygon points="1777.7,1320.4 1790.2,1320.4 1799.0,1329.2 1799.0,1341.6 1790.2,1350.4 1777.7,1350.4 1769.0,1341.6 1769.0,1329.2"/><polygon points="1837.8,1358.7 1850.2,1358.7 1859.0,1367.5 1859.0,1379.9 1850.2,1388.7 1837.8,1388.7 1829.0,1379.9 1829.0,1367.5"/><polygon points="1897.9,1375.1 1910.3,1375.1 1919.1,1383.9 1919.1,1396.3 1910.3,1405.1 1897.9,1405.1 1889.1,1396.3 1889.1,1383.9"/><polygon points="1958.0,1376.3 1970.4,1376.3 1979.2,1385.1 1979.2,1397.5 1970.4,1406.3 1958.0,1406.3 1949.2,1397.5 1949.2,1385.1"/><polygon points="2018.0,1383.4 2030.5,1383.4 2039.2,1392.2 2039.2,1404.6 2030.5,1413.4 2018.0,1413.4 2009.2,1404.6 2009.2,1392.2"/><polygon points="2078.1,1402.7 2090.5,1402.7 2099.3,1411.5 2099.3,1423.9 2090.5,1432.7 2078.1,1432.7 2069.3,1423.9 2069.3,1411.5"/></g>
<path d="M1844.0 1462.0 L1904.1 1478.5 L1964.2 1488.1 L2024.2 1499.2 L2084.3 1501.9" stroke="#ff00ff" stroke-width="14.6" fill="none" stroke-linejoin="round" stroke-linecap="butt"/>
<g fill="#ff00ff"><polygon points="1837.8,1447.0 1850.2,1447.0 1859.0,1455.8 1859.0,1468.2 1850.2,1477.0 1837.8,1477.0 1829.0,1468.2 1829.0,1455.8"/><polygon points="1897.9,1463.5 1910.3,1463.5 1919.1,1472.3 1919.1,1484.7 1910.3,1493.5 1897.9,1493.5 1889.1,1484.7 1889.1,1472.3"/><polygon points="1958.0,1473.1 1970.4,1473.1 1979.2,1481.9 1979.2,1494.3 1970.4,1503.1 1958.0,1503.1 1949.2,1494.3 1949.2,1481.9"/><polygon points="2018.0,1484.2 2030.5,1484.2 2039.2,1493.0 2039.2,1505.4 2030.5,1514.2 2018.0,1514.2 2009.2,1505.4 2009.2,1493.0"/><polygon points="2078.1,1486.9 2090.5,1486.9 2099.3,1495.7 2099.3,1508.1 2090.5,1516.9 2078.1,1516.9 2069.3,1508.1 2069.3,1495.7"/></g>
<g class="t" font-size="61" fill="#262626" text-anchor="middle">
<text x="222.0" y="1649">0</text>
<text x="462.3" y="1649">2</text>
<text x="702.6" y="1649">4</text>
<text x="942.9" y="1649">6</text>
<text x="1183.2" y="1649">8</text>
<text x="1423.5" y="1649">10</text>
<text x="1663.8" y="1649">12</text>
<text x="1904.1" y="1649">14</text>
<text x="2144.4" y="1649">16</text>
</g>
<g class="t" font-size="61" fill="#262626" text-anchor="end">
<text x="198" y="1588.9">9</text>
<text x="198" y="1372.3">10</text>
<text x="198" y="1155.8">11</text>
<text x="198" y="939.2">12</text>
<text x="198" y="722.6">13</text>
<text x="198" y="506.0">14</text>
<text x="198" y="289.5">15</text>
<text x="198" y="72.9">16</text>
</g>
<text class="t" x="1183" y="1734" font-size="65" fill="#262626" text-anchor="middle">Wind Speed(m/s)</text>
<g class="t" transform="rotate(-90)" fill="#262626" font-size="65.4">
<text x="-1121.1" y="70.9">Mean Value of</text>
<text x="-683.5" y="70.4" font-style="italic" font-size="55">σ</text>
<text x="-646" y="102" font-size="50.5">0</text>
<text x="-616.6" y="70.9">(dB)</text>
</g>
<rect x="1104" y="95" width="503" height="426" fill="#fff"/>
<path d="M1124.2 137.5H1301.3" stroke="#ff0000" stroke-width="14.6" fill="none"/>
<polygon fill="#ff0000" points="1206.3,122.5 1218.7,122.5 1227.5,131.3 1227.5,143.7 1218.7,152.5 1206.3,152.5 1197.5,143.7 1197.5,131.3"/>
<text class="t" x="1315.0" y="159.0" font-size="53" fill="#000">SWH=0.5m</text>
<path d="M1124.2 205.7H1301.3" stroke="#ff8000" stroke-width="14.6" fill="none"/>
<polygon fill="#ff8000" points="1206.3,190.7 1218.7,190.7 1227.5,199.5 1227.5,211.9 1218.7,220.7 1206.3,220.7 1197.5,211.9 1197.5,199.5"/>
<text class="t" x="1315.0" y="227.2" font-size="53" fill="#000">SWH=1m</text>
<path d="M1124.2 273.9H1301.3" stroke="#ffff00" stroke-width="14.6" fill="none"/>
<polygon fill="#ffff00" points="1206.3,258.9 1218.7,258.9 1227.5,267.7 1227.5,280.1 1218.7,288.9 1206.3,288.9 1197.5,280.1 1197.5,267.7"/>
<text class="t" x="1315.0" y="295.4" font-size="53" fill="#000">SWH=1.5m</text>
<path d="M1124.2 342.1H1301.3" stroke="#80ff00" stroke-width="14.6" fill="none"/>
<polygon fill="#80ff00" points="1206.3,327.1 1218.7,327.1 1227.5,335.9 1227.5,348.3 1218.7,357.1 1206.3,357.1 1197.5,348.3 1197.5,335.9"/>
<text class="t" x="1315.0" y="363.6" font-size="53" fill="#000">SWH=2m</text>
<path d="M1124.2 410.3H1301.3" stroke="#00ff00" stroke-width="14.6" fill="none"/>
<polygon fill="#00ff00" points="1206.3,395.3 1218.7,395.3 1227.5,404.1 1227.5,416.5 1218.7,425.3 1206.3,425.3 1197.5,416.5 1197.5,404.1"/>
<text class="t" x="1315.0" y="431.8" font-size="53" fill="#000">SWH=2.5m</text>
<path d="M1124.2 478.5H1301.3" stroke="#00ff80" stroke-width="14.6" fill="none"/>
<polygon fill="#00ff80" points="1206.3,463.5 1218.7,463.5 1227.5,472.3 1227.5,484.7 1218.7,493.5 1206.3,493.5 1197.5,484.7 1197.5,472.3"/>
<text class="t" x="1315.0" y="500.0" font-size="53" fill="#000">SWH=3m</text>
<rect x="1627" y="91.5" width="502.5999999999999" height="358.5" fill="#fff"/>
<path d="M1646.8 135.1H1823.9" stroke="#00ffff" stroke-width="14.6" fill="none"/>
<polygon fill="#00ffff" points="1728.9,120.1 1741.3,120.1 1750.1,128.9 1750.1,141.3 1741.3,150.1 1728.9,150.1 1720.1,141.3 1720.1,128.9"/>
<text class="t" x="1837.1" y="156.6" font-size="53" fill="#000">SWH=3.5m</text>
<path d="M1646.8 203.1H1823.9" stroke="#0080ff" stroke-width="14.6" fill="none"/>
<polygon fill="#0080ff" points="1728.9,188.1 1741.3,188.1 1750.1,196.9 1750.1,209.4 1741.3,218.1 1728.9,218.1 1720.1,209.4 1720.1,196.9"/>
<text class="t" x="1837.1" y="224.6" font-size="53" fill="#000">SWH=4m</text>
<path d="M1646.8 271.2H1823.9" stroke="#0000ff" stroke-width="14.6" fill="none"/>
<polygon fill="#0000ff" points="1728.9,256.2 1741.3,256.2 1750.1,265.0 1750.1,277.4 1741.3,286.2 1728.9,286.2 1720.1,277.4 1720.1,265.0"/>
<text class="t" x="1837.1" y="292.7" font-size="53" fill="#000">SWH=4.5m</text>
<path d="M1646.8 339.2H1823.9" stroke="#8000ff" stroke-width="14.6" fill="none"/>
<polygon fill="#8000ff" points="1728.9,324.2 1741.3,324.2 1750.1,333.0 1750.1,345.5 1741.3,354.2 1728.9,354.2 1720.1,345.5 1720.1,333.0"/>
<text class="t" x="1837.1" y="360.8" font-size="53" fill="#000">SWH=5m</text>
<path d="M1646.8 407.3H1823.9" stroke="#ff00ff" stroke-width="14.6" fill="none"/>
<polygon fill="#ff00ff" points="1728.9,392.3 1741.3,392.3 1750.1,401.1 1750.1,413.5 1741.3,422.3 1728.9,422.3 1720.1,413.5 1720.1,401.1"/>
<text class="t" x="1837.1" y="428.8" font-size="53" fill="#000">SWH=5.5m</text>
</svg>
</body></html>
